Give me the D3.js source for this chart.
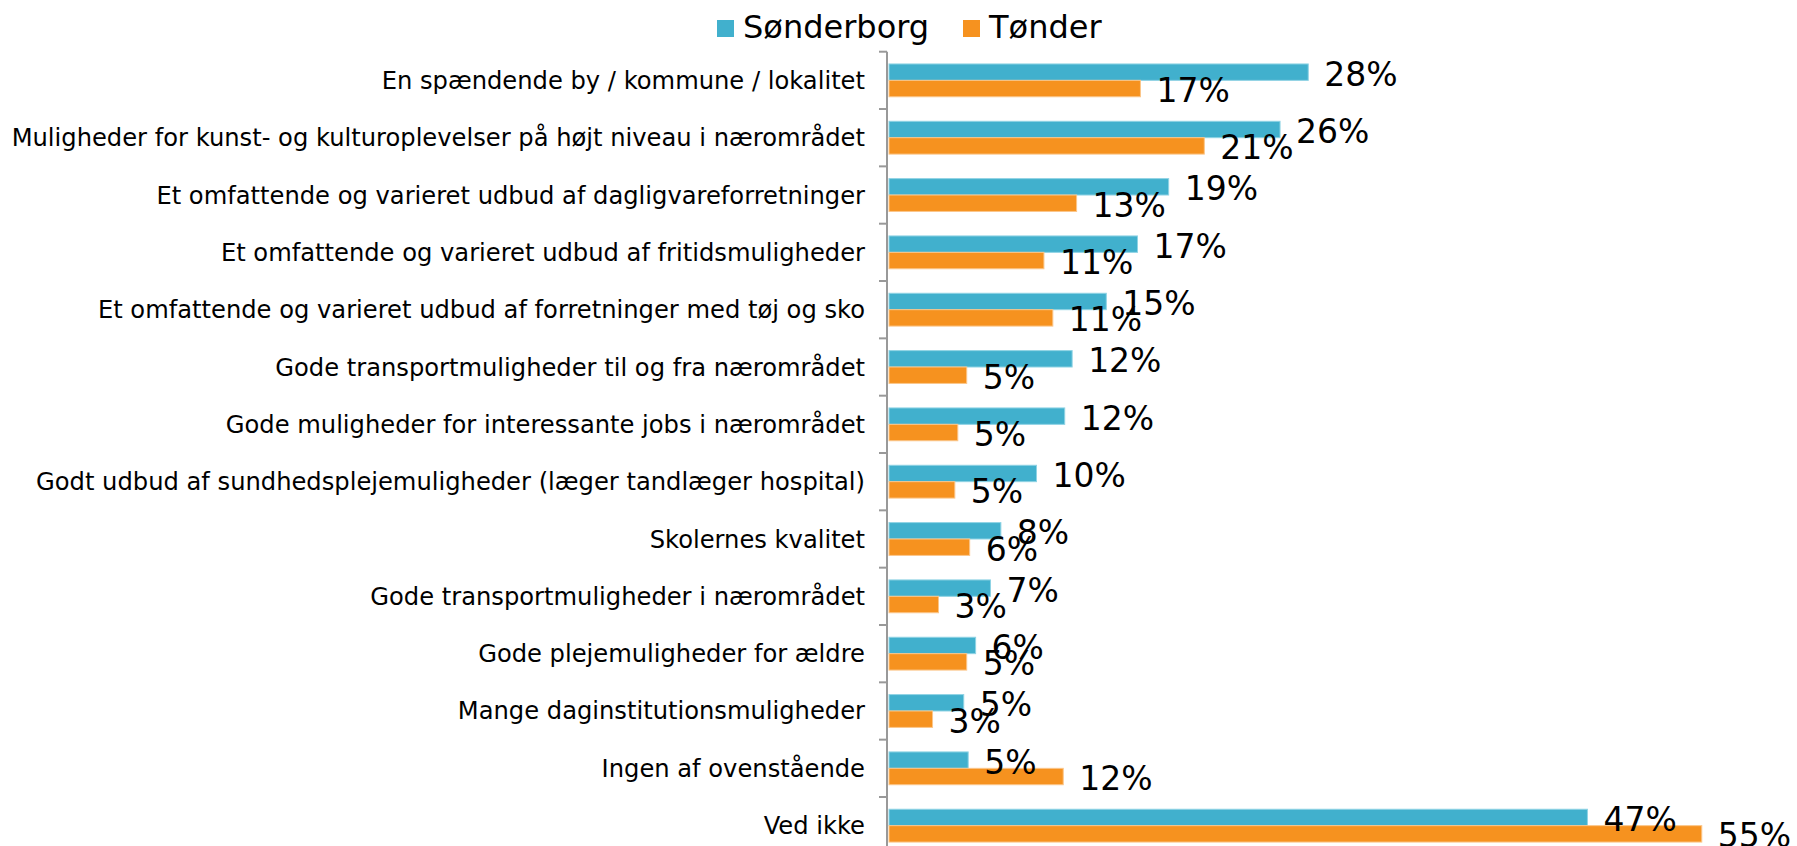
<!DOCTYPE html>
<html>
<head>
<meta charset="utf-8">
<script src="https://cdn.jsdelivr.net/npm/d3@7/dist/d3.min.js"></script>
<style>
  html, body { margin: 0; padding: 0; background: #fff; }
  svg { display: block; font-family: "DejaVu Sans", Verdana, sans-serif; }
</style>
</head>
<body>
<svg id="chart" width="1797" height="846"></svg>
<script>
const categories = [
  "En spændende by / kommune / lokalitet",
  "Muligheder for kunst- og kulturoplevelser på højt niveau i nærområdet",
  "Et omfattende og varieret udbud af dagligvareforretninger",
  "Et omfattende og varieret udbud af fritidsmuligheder",
  "Et omfattende og varieret udbud af forretninger med tøj og sko",
  "Gode transportmuligheder til og fra nærområdet",
  "Gode muligheder for interessante jobs i nærområdet",
  "Godt udbud af sundhedsplejemuligheder (læger tandlæger hospital)",
  "Skolernes kvalitet",
  "Gode transportmuligheder i nærområdet",
  "Gode plejemuligheder for ældre",
  "Mange daginstitutionsmuligheder",
  "Ingen af ovenstående",
  "Ved ikke"
];
const seriesNames = ["Sønderborg", "Tønder"];
const sonderborg = [28.3, 26.4, 18.9, 16.8, 14.7, 12.4, 11.9, 10.0, 7.6, 6.9, 5.9, 5.1, 5.4, 47.1];
const tonder     = [17.0, 21.3, 12.7, 10.5, 11.1, 5.3, 4.7, 4.5, 5.5, 3.4, 5.3, 3.0, 11.8, 54.8];
const colors = ["#41B0CD", "#F6921F"];
const strokeColors = ["#8fd3e4", "#fbc68a"];

const svg = d3.select("#chart");
const x0 = 888;
const x = d3.scaleLinear().domain([0, 60]).range([x0, x0 + 891]);
const step = 57.33;
const yTop = 51.7;
const y = d3.scaleBand().domain(categories).range([yTop, yTop + step * categories.length]).padding(0);
const yInner = d3.scaleBand().domain(seriesNames).range([0, y.bandwidth()]).paddingInner(0).paddingOuter(0.747);

const data = categories.map((c, i) => ({ cat: c, vals: [sonderborg[i], tonder[i]] }));

// bars
const groups = svg.append("g").selectAll("g").data(data).join("g")
  .attr("transform", d => `translate(0,${y(d.cat)})`);

groups.selectAll("rect").data(d => d.vals.map((v, j) => ({ v, j }))).join("rect")
  .attr("x", x(0) + 1)
  .attr("y", d => yInner(seriesNames[d.j]))
  .attr("width", d => x(d.v) - x(0) - 1)
  .attr("height", yInner.bandwidth())
  .attr("fill", d => colors[d.j])
  .attr("stroke", d => strokeColors[d.j])
  .attr("stroke-width", 1);

// value labels
groups.selectAll("text").data(d => d.vals.map((v, j) => ({ v, j }))).join("text")
  .attr("x", d => x(d.v) + 16)
  .attr("y", d => yInner(seriesNames[d.j]) + yInner.bandwidth() / 2 + 13.5)
  .attr("font-size", 33)
  .attr("fill", "#000")
  .text(d => Math.round(d.v) + "%");

// axis
const axis = d3.axisLeft(y).tickSize(8).tickFormat("");
const axG = svg.append("g").attr("transform", `translate(${x0 - 1},0)`).call(axis);
axG.select(".domain").attr("stroke", "#999").attr("stroke-width", 2).attr("d", `M0,${yTop}V${yTop + step * categories.length}`);
axG.selectAll(".tick").remove();
const boundaries = d3.range(categories.length + 1).map(i => yTop + i * step);
axG.selectAll("line.b").data(boundaries).join("line")
  .attr("class", "b")
  .attr("x1", -8).attr("x2", 0)
  .attr("y1", d => d).attr("y2", d => d)
  .attr("stroke", "#999").attr("stroke-width", 2);

// category labels
svg.append("g").selectAll("text").data(categories).join("text")
  .attr("x", 865)
  .attr("y", d => y(d) + y.bandwidth() / 2 + 8.5)
  .attr("text-anchor", "end")
  .attr("font-size", 24.2)
  .attr("fill", "#000")
  .text(d => d);

// legend
const legendX = [717, 963];
const lg = svg.append("g").selectAll("g").data(seriesNames).join("g")
  .attr("transform", (d, i) => `translate(${legendX[i]},0)`);
lg.append("rect").attr("x", 0).attr("y", 20).attr("width", 17).attr("height", 17)
  .attr("fill", (d, i) => colors[i]);
lg.append("text").attr("x", 26).attr("y", 38).attr("font-size", 32).attr("fill", "#000").text(d => d);
</script>
</body>
</html>
